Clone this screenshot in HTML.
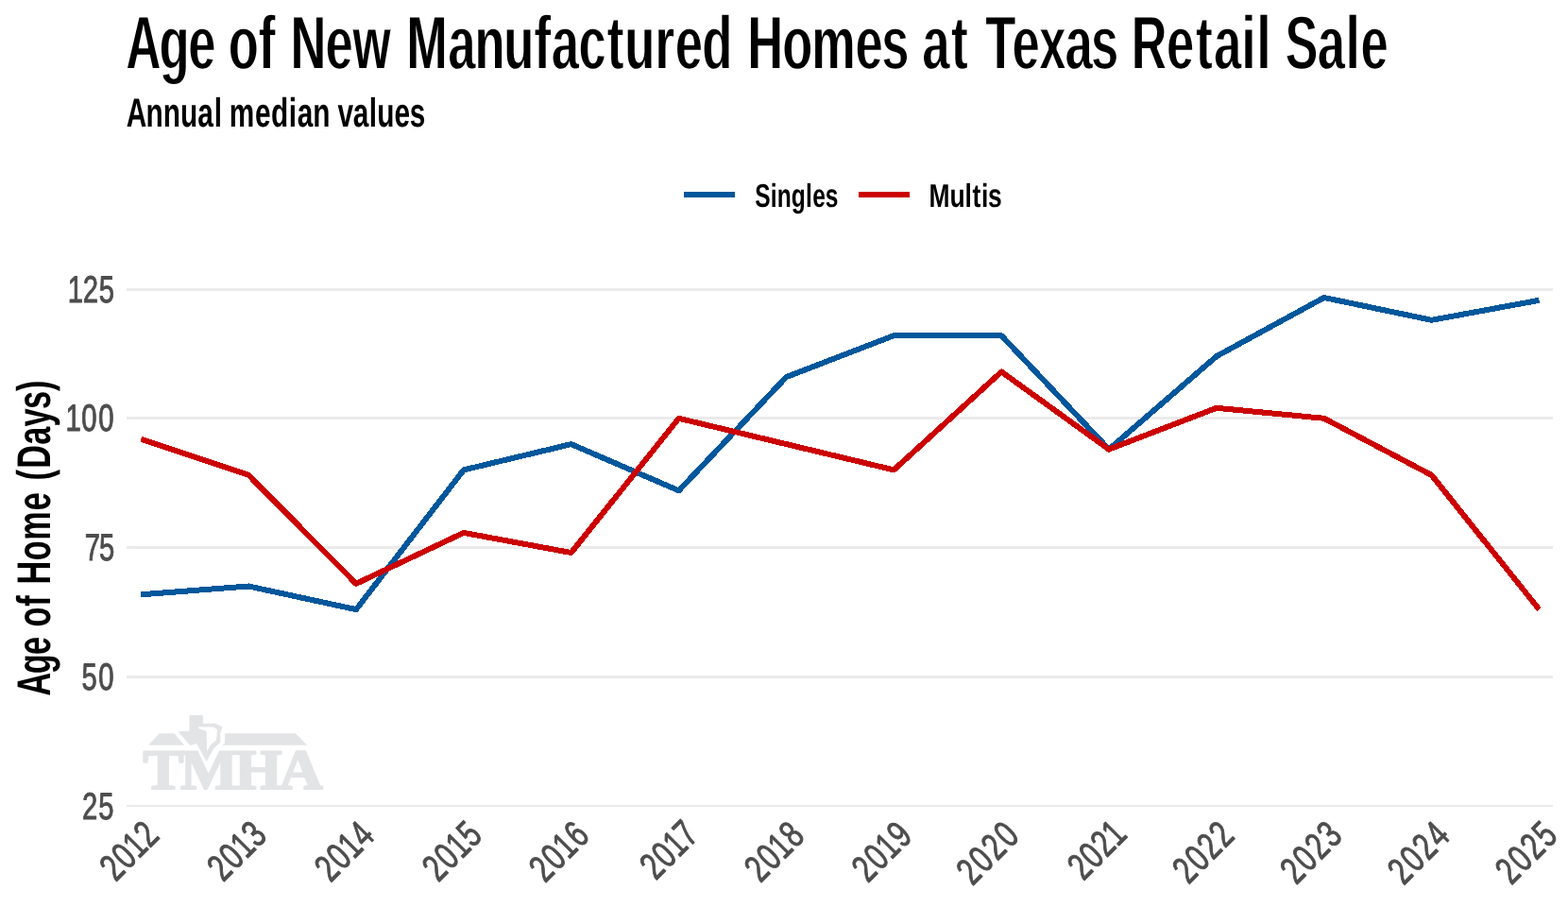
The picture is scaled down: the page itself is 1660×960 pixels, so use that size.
<!DOCTYPE html>
<html lang="en"><head><meta charset="utf-8"><title>Age of New Manufactured Homes at Texas Retail Sale</title>
<style>
html,body{margin:0;padding:0;background:#fff;}
body{width:1660px;height:960px;overflow:hidden;}
svg{display:block;}
text{font-family:"Liberation Sans",sans-serif;text-rendering:geometricPrecision;}
.logo text{font-family:"Liberation Serif",serif;font-weight:bold;}
</style></head><body>
<svg width="1660" height="960" viewBox="0 0 1660 960">
<defs>
<filter id="ey1" x="-5%" y="-5%" width="110%" height="110%"><feMorphology operator="erode" radius="0 1"/></filter>
</defs>
<rect width="1660" height="960" fill="#ffffff"/>
<g fill="#ebebeb">
<rect x="134" y="305" width="1510" height="3"/>
<rect x="134" y="441" width="1510" height="3"/>
<rect x="134" y="578" width="1510" height="3"/>
<rect x="134" y="715" width="1510" height="3"/>
<rect x="134" y="852" width="1510" height="2"/>
</g>
<g class="logo" fill="#e3e4e6">
<polygon points="168.7,776.3 184.6,776.3 195,788.8 157.2,788.8"/>
<polygon points="238.1,776.3 312.9,776.3 325.2,788.8 235.2,788.8 238.1,786.5"/>
<path fill-rule="evenodd" d="M200.5,756.9 L214.9,756.9 L214.9,765.8 L228,765.8 L235.4,769.3 L233,777.2 L233.5,785.6 L226.1,792.5 L218.6,805.9 L208.2,787.1 L201.3,789.1 L188.5,774.2 L200.5,773.7 Z M210.2,769.3 L226,769.6 L230,772.2 L229,783.6 L222.9,788.6 L219.1,795 L218.6,773.7 L210.4,771.2 Z"/>
<text transform="translate(244.9,835.1) scale(1.067,1)" font-size="60.2" text-anchor="middle" letter-spacing="-3" stroke="#e3e4e6" stroke-width="2.2" stroke-linejoin="round">TMHA</text>
</g>
<text transform="translate(0,73) scale(0.6420,1)" font-size="80.5" fill="#000" font-weight="700" filter="url(#ey1)"><tspan x="207.62 262.68 310.93">Age</tspan> <tspan x="377.06 426.84">of</tspan> <tspan x="479.22 536.9 581.95">New</tspan> <tspan x="670.4 738.92 782.99 831.05 881.39 909.77 954.36 1001.63 1030.46 1080.48 1113.53 1158.19">Manufactured</tspan> <tspan x="1232.88 1290.41 1338.73 1410.94 1454.1">Homes</tspan> <tspan x="1521.19 1568.9">at</tspan> <tspan x="1625.56 1669.42 1713.31 1756.71 1799.51">Texas</tspan> <tspan x="1866.07 1924.23 1972.3 2001.92 2047.99 2072.83">Retail</tspan> <tspan x="2119.64 2173.08 2219.55 2244.09">Sale</tspan></text>
<text transform="translate(0,134) scale(0.6934,1)" font-size="43" fill="#000" font-weight="700"><tspan x="192.86 222.94 249.1 275.3 301.81 327.05">Annual</tspan> <tspan x="350.09 389.57 413.85 440.93 453.91 477.76">median</tspan> <tspan x="515.69 538.87 563.53 575.96 602.24 625.45">values</tspan></text>
<rect x="724" y="203" width="54" height="6" fill="#00579b"/>
<text transform="translate(0,218.9) scale(0.7081,1)" font-size="34.7" fill="#000" font-weight="700"><tspan x="1128.88 1152.17 1162.06 1183.09 1204.57 1214.71 1233.8">Singles</tspan></text>
<rect x="909" y="203" width="54" height="6" fill="#cc0000"/>
<text transform="translate(0,218.9) scale(0.7613,1)" font-size="34.7" fill="#000" font-weight="700"><tspan x="1292.03 1320.7 1341.78 1352.28 1364.7 1373.97">Multis</tspan></text>
<text transform="translate(53,735.2) rotate(-90) scale(0.6854,1)" font-size="50" fill="#000" font-weight="700"><tspan x="-1.79 32.01 61.56">Age</tspan> <tspan x="104.57 136.4">of</tspan> <tspan x="170.2 207.07 238.31 284.36">Home</tspan> <tspan x="330.9 349.33 385.89 413.79 440.8 468.62">(Days)</tspan></text>
<text transform="translate(0,320) scale(0.7317,1)" font-size="40" fill="#4d4d4d" stroke="#4d4d4d" stroke-width="1" stroke-linejoin="round" vector-effect="non-scaling-stroke"><tspan x="97.99 119.92 143.03">125</tspan></text>
<text transform="translate(0,456) scale(0.7317,1)" font-size="40" fill="#4d4d4d" stroke="#4d4d4d" stroke-width="1" stroke-linejoin="round" vector-effect="non-scaling-stroke"><tspan x="94.85 117.9 142.65">100</tspan></text>
<text transform="translate(0,593) scale(0.7317,1)" font-size="40" fill="#4d4d4d" stroke="#4d4d4d" stroke-width="1" stroke-linejoin="round" vector-effect="non-scaling-stroke"><tspan x="122.53 143.5">75</tspan></text>
<text transform="translate(0,730) scale(0.7317,1)" font-size="40" fill="#4d4d4d" stroke="#4d4d4d" stroke-width="1" stroke-linejoin="round" vector-effect="non-scaling-stroke"><tspan x="118.23 142.58">50</tspan></text>
<text transform="translate(0,867) scale(0.7317,1)" font-size="40" fill="#4d4d4d" stroke="#4d4d4d" stroke-width="1" stroke-linejoin="round" vector-effect="non-scaling-stroke"><tspan x="118.79 142.59">25</tspan></text>
<text transform="translate(164.97,891.46) rotate(-45) scale(0.7350,1)" font-size="40.5" fill="#4d4d4d" stroke="#4d4d4d" stroke-width="1" stroke-linejoin="round" vector-effect="non-scaling-stroke"><tspan x="-81.84 -57.77 -34.9 -12.52">2012</tspan></text>
<text transform="translate(278.53,892.01) rotate(-45) scale(0.7350,1)" font-size="40.5" fill="#4d4d4d" stroke="#4d4d4d" stroke-width="1" stroke-linejoin="round" vector-effect="non-scaling-stroke"><tspan x="-81.51 -57.22 -34.12 -11.52">2013</tspan></text>
<text transform="translate(392.36,892.32) rotate(-45) scale(0.7350,1)" font-size="40.5" fill="#4d4d4d" stroke="#4d4d4d" stroke-width="1" stroke-linejoin="round" vector-effect="non-scaling-stroke"><tspan x="-81.49 -57.22 -34.15 -11.49">2014</tspan></text>
<text transform="translate(506.28,892.2) rotate(-45) scale(0.7350,1)" font-size="40.5" fill="#4d4d4d" stroke="#4d4d4d" stroke-width="1" stroke-linejoin="round" vector-effect="non-scaling-stroke"><tspan x="-81.45 -57.07 -33.91 -11.25">2015</tspan></text>
<text transform="translate(619.38,892.86) rotate(-45) scale(0.7350,1)" font-size="40.5" fill="#4d4d4d" stroke="#4d4d4d" stroke-width="1" stroke-linejoin="round" vector-effect="non-scaling-stroke"><tspan x="-81.48 -56.98 -33.69 -10.57">2016</tspan></text>
<text transform="translate(736.44,890.46) rotate(-45) scale(0.7350,1)" font-size="40.5" fill="#4d4d4d" stroke="#4d4d4d" stroke-width="1" stroke-linejoin="round" vector-effect="non-scaling-stroke"><tspan x="-81.05 -57.11 -34.38 -13.25">2017</tspan></text>
<text transform="translate(847.48,892.84) rotate(-45) scale(0.7350,1)" font-size="40.5" fill="#4d4d4d" stroke="#4d4d4d" stroke-width="1" stroke-linejoin="round" vector-effect="non-scaling-stroke"><tspan x="-81.53 -57.15 -33.98 -11.03">2018</tspan></text>
<text transform="translate(961.05,892.96) rotate(-45) scale(0.7350,1)" font-size="40.5" fill="#4d4d4d" stroke="#4d4d4d" stroke-width="1" stroke-linejoin="round" vector-effect="non-scaling-stroke"><tspan x="-81.48 -56.93 -33.59 -10.44">2019</tspan></text>
<text transform="translate(1072.05,895.49) rotate(-45) scale(0.7350,1)" font-size="40.5" fill="#4d4d4d" stroke="#4d4d4d" stroke-width="1" stroke-linejoin="round" vector-effect="non-scaling-stroke"><tspan x="-82.1 -56.74 -31.38 -6.03">2020</tspan></text>
<text transform="translate(1189.66,890.24) rotate(-45) scale(0.7350,1)" font-size="40.5" fill="#4d4d4d" stroke="#4d4d4d" stroke-width="1" stroke-linejoin="round" vector-effect="non-scaling-stroke"><tspan x="-82.22 -58.51 -34.78 -12.76">2021</tspan></text>
<text transform="translate(1300.87,894.11) rotate(-45) scale(0.7350,1)" font-size="40.5" fill="#4d4d4d" stroke="#4d4d4d" stroke-width="1" stroke-linejoin="round" vector-effect="non-scaling-stroke"><tspan x="-82.09 -57.22 -32.32 -7.91">2022</tspan></text>
<text transform="translate(1414.89,894.5) rotate(-45) scale(0.7350,1)" font-size="40.5" fill="#4d4d4d" stroke="#4d4d4d" stroke-width="1" stroke-linejoin="round" vector-effect="non-scaling-stroke"><tspan x="-82.06 -56.99 -31.9 -7.31">2023</tspan></text>
<text transform="translate(1528.44,895.14) rotate(-45) scale(0.7350,1)" font-size="40.5" fill="#4d4d4d" stroke="#4d4d4d" stroke-width="1" stroke-linejoin="round" vector-effect="non-scaling-stroke"><tspan x="-81.8 -56.64 -31.45 -6.7">2024</tspan></text>
<text transform="translate(1642.42,894.93) rotate(-45) scale(0.7350,1)" font-size="40.5" fill="#4d4d4d" stroke="#4d4d4d" stroke-width="1" stroke-linejoin="round" vector-effect="non-scaling-stroke"><tspan x="-81.83 -56.58 -31.33 -6.58">2025</tspan></text>
<g fill="none" stroke-width="6" stroke-linejoin="round" shape-rendering="crispEdges">
<polyline points="149.3,629.3 263.2,620.5 377.0,645.1 490.9,497.4 604.7,470.1 718.6,519.3 832.5,399.0 946.3,355.2 1060.2,355.2 1174.0,475.6 1287.9,377.1 1401.8,315.0 1515.6,338.8 1629.5,317.8" stroke="#00579b"/>
<polyline points="149.3,464.6 263.2,502.9 377.0,617.8 490.9,563.9 604.7,585.0 718.6,442.8 832.5,470.1 946.3,497.4 1060.2,393.5 1174.0,475.6 1287.9,431.8 1401.8,442.8 1515.6,502.9 1629.5,645.1" stroke="#cc0000"/>
</g>
</svg></body></html>
